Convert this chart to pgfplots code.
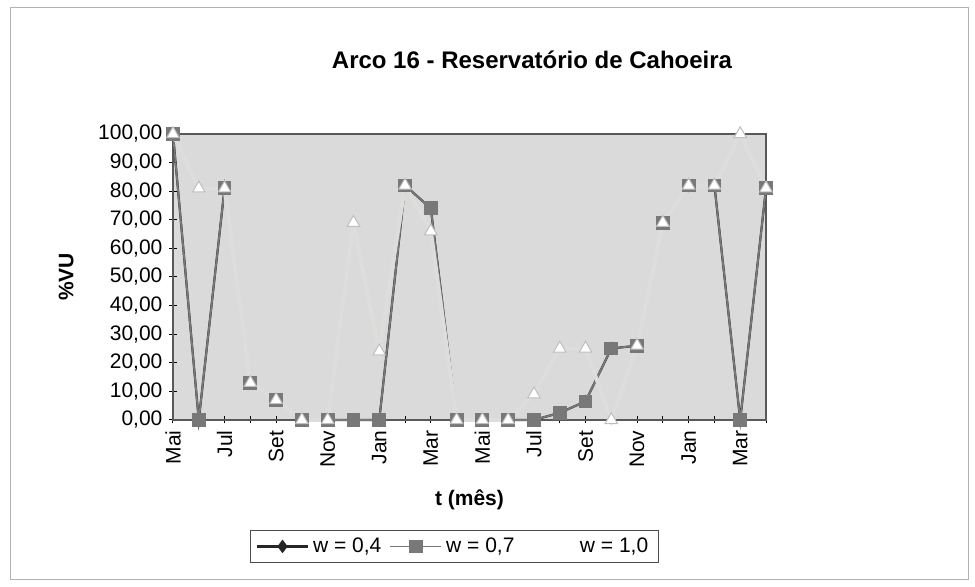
\documentclass[border=0pt]{standalone}
\usepackage{fontspec}
\setmainfont{Liberation Sans}
\usepackage{pgfplots}
\pgfplotsset{compat=1.18}
\usepackage{pgfplotstable}

\pgfplotstableread{
i  w04  w07  w10
0  100  100  100
1  0    0    81
2  81   81   81
3  13   13   13
4  7    7    7
5  0    0    0
6  0    0    0
7  0    0    69
8  0    0    24
9  82   82   82
10 74   74   66
11 0    0    0
12 0    0    0
13 0    0    0
14 0    0    9
15 2.5  2.5  25
16 6.5  6.5  25
17 25   25   0
18 26   26   26
19 69   69   69
20 82   82   82
21 82   82   82
22 0    0    100
23 81   81   81
}\datatable

\definecolor{plotbg}{RGB}{218,218,218}
\definecolor{sergray}{RGB}{120,120,120}
\definecolor{ylw}{RGB}{221,221,220}

\begin{document}
\begin{tikzpicture}
\path[use as bounding box] (0,0) rectangle (487.5pt,293.5pt);
\draw[gray!60, line width=0.5pt] (5pt,3.5pt) rectangle (484pt,289.5pt);
\node[font=\bfseries\fontsize{12}{14}\selectfont] at (266pt,263.5pt) {Arco 16 - Reservatório de Cahoeira};
\begin{axis}[
  at={(86.5pt,83.5pt)}, anchor=south west,
  scale only axis, width=296.5pt, height=143pt,
  xmin=0, xmax=23, ymin=0, ymax=100,
  clip=false,
  axis background/.style={fill=plotbg},
  axis line style={black!65, line width=0.6pt},
  xtick={0,2,...,22},
  xticklabels={Mai,Jul,Set,Nov,Jan,Mar,Mai,Jul,Set,Nov,Jan,Mar},
  minor xtick={1,3,...,23},
  ytick={0,10,...,100},
  xtick pos=left, ytick pos=left,
  tick align=center,
  major tick length=3.5pt, minor tick length=3.5pt,
  every tick/.style={black, line width=0.5pt},
  minor tick style={black, line width=0.5pt},
  tick label style={font=\fontsize{10.5}{12}\selectfont},
  x tick label style={rotate=90, anchor=east},
  yticklabel style={/pgf/number format/fixed, /pgf/number format/fixed zerofill, /pgf/number format/precision=2, /pgf/number format/use comma, /pgf/number format/1000 sep={}},
  /pgf/number format/assume math mode=true,
  xlabel={t (mês)}, ylabel={\%VU},
  every axis x label/.style={at={(axis description cs:0.5,-0.28)}, anchor=center, font=\bfseries\fontsize{10.5}{12}\selectfont},
  every axis y label/.style={at={(axis description cs:-0.18,0.5)}, rotate=90, anchor=center, font=\bfseries\fontsize{10.5}{12}\selectfont},
  legend style={at={(axis description cs:0.474,-0.442)}, anchor=center, draw=black!70, line width=0.4pt, fill=white, font=\fontsize{10.5}{12}\selectfont, inner xsep=3pt, inner ysep=1.5pt, /tikz/every even column/.append style={column sep=2pt}},
  legend columns=3,
  legend image code/.code={\draw[mark repeat=2,mark phase=2,#1] plot coordinates {(0pt,0pt) (12.75pt,0pt) (25.5pt,0pt)};},
]
\addplot[black!85, line width=1.1pt, mark=diamond*, mark size=3pt, mark options={fill=black!85, draw=black!85, solid, line width=0.5pt}] table[x=i,y=w04] {\datatable};
\addlegendentry{w = 0,4}
\addplot[sergray, line width=0.9pt, mark=square*, mark size=3pt, mark options={fill=sergray, draw=sergray}] table[x=i,y=w07] {\datatable};
\addlegendentry{w = 0,7}
\addplot[ylw, line width=2pt, mark=triangle*, mark size=3.6pt, mark options={fill=white, draw=gray!50, line width=0.5pt}, forget plot] table[x=i,y=w10] {\datatable};
\addlegendimage{white, line width=1.2pt}
\addlegendentry{w = 1,0}
\end{axis}
\end{tikzpicture}
\end{document}
